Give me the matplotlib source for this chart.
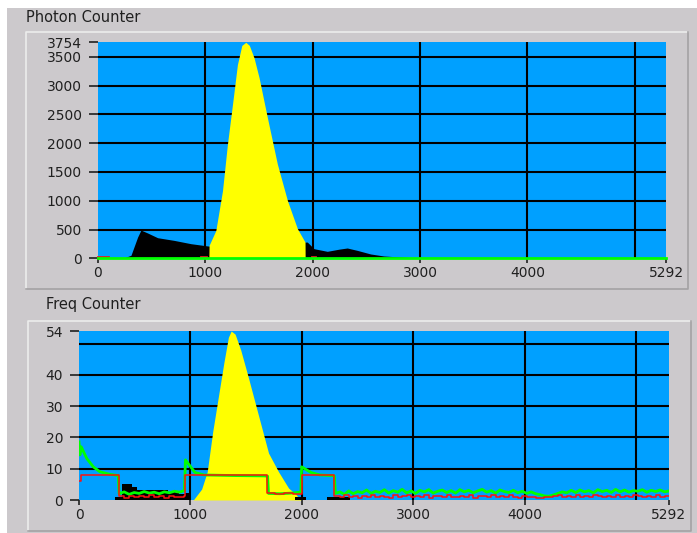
import numpy as np
import matplotlib
matplotlib.use('Agg')
import matplotlib.pyplot as plt
from matplotlib.lines import Line2D

# photon counter: black spectrum and yellow region of interest
spec_x = [0, 200, 245, 307, 369, 400, 462, 555, 710, 865, 1020, 1100, 1500, 1930,
          1950, 2012, 2136, 2250, 2322, 2415, 2540, 2663, 2800, 2900, 2912, 5292]
spec_y = [0, 0, 10, 52, 369, 490, 440, 358, 311, 254, 215, 200, 200, 282,
          282, 167, 121, 160, 179, 138, 75, 40, 24, 14, 0, 0]
roi_x = [1033, 1035, 1098, 1160, 1206, 1253, 1299, 1340, 1377, 1410, 1454, 1501,
         1578, 1671, 1765, 1858, 1929, 1930]
roi_y = [0, 225, 485, 1176, 1984, 2676, 3368, 3700, 3754, 3700, 3483, 3137,
         2445, 1638, 1003, 514, 282, 0]
red_marks = [(0, 95), (960, 1010), (1990, 2020)]

# freq counter
fpeak_x = [1025, 1100, 1150, 1200, 1250, 1300, 1340, 1365, 1400, 1450, 1520,
           1610, 1700, 1790, 1880, 1940, 1990]
fpeak_y = [0, 3.5, 9, 22, 33, 44, 52, 54, 53, 48, 39, 27, 15, 9, 3.8, 2, 0]
fblack_x = [0, 320, 383, 472, 517, 800, 900, 950, 1000, 1935, 2040, 2225, 2430, 5292]
fblack_y = [0, 1.0, 5.2, 4.2, 3.2, 2.7, 2.0, 2.2, 0, 1.0, 0, 1.0, 0, 0]

green_x = [0, 8, 20, 69, 128, 188, 278, 352, 360, 405, 450, 495, 540, 585, 630,
           675, 720, 765, 810, 855, 900, 945, 955, 1040, 1120, 1400, 1660, 1692,
           1700, 1800, 1900, 1990, 1997, 2080, 2161, 2275, 2290]
green_y = [18.6, 14.4, 17.0, 13.3, 10.6, 9.0, 8.2, 7.8, 2.0, 2.6, 1.8, 2.4, 2.1,
           2.7, 2.2, 2.5, 2.0, 2.6, 2.3, 2.8, 2.5, 3.0, 12.8, 8.8, 8.0, 7.8, 7.7,
           7.6, 2.1, 2.0, 2.2, 2.5, 10.6, 8.8, 8.0, 7.8, 7.7]
green_tail = [2.1, 2.6, 1.8, 2.9, 2.0, 2.7, 2.3, 3.2, 2.1, 2.8, 2.4, 3.3, 2.2, 3.0,
              2.5, 3.4, 2.3, 2.9, 2.1, 3.1, 2.6, 3.3, 2.2, 2.8, 3.2, 2.4, 3.0, 2.2,
              3.3, 2.6, 3.1, 2.3, 2.9, 3.4, 2.5, 3.0, 2.2, 3.2, 2.7, 2.4, 3.1, 2.3,
              2.8, 2.1, 2.6, 2.0, 1.7, 1.3, 1.2, 1.6, 2.1, 2.6, 2.3, 3.1, 2.4, 3.2,
              2.6, 3.0, 2.3, 3.3, 2.7, 3.1, 2.4, 3.4, 2.6, 3.2, 2.5, 3.0, 2.8, 3.3,
              2.5, 3.1, 2.7, 3.2, 2.6, 2.9]

red_x = [0, 20, 360, 405, 450, 495, 540, 585, 630, 675, 720, 765, 810, 855, 900,
         945, 950, 1690, 1760, 1840, 1920, 2000, 2290]
red_y = [6, 8, 1.2, 0.7, 1.4, 0.9, 1.3, 0.8, 1.5, 1.0, 1.2, 0.7, 1.4, 1.1, 0.9,
         1.3, 8, 2.2, 1.8, 2.1, 1.9, 8, 1.3]
red_tail = [1.2, 0.8, 1.5, 0.9, 1.3, 0.6, 1.4, 1.0, 1.6, 0.8, 1.3, 1.1, 0.7, 1.5,
            0.9, 1.2, 1.6, 0.8, 1.3, 1.0, 1.5, 0.7, 1.2, 1.4, 0.9, 1.6, 1.1, 0.8,
            1.3, 1.0, 1.5, 0.7, 1.4, 1.2, 0.8, 1.6, 1.0, 1.3, 0.9, 1.5, 1.1, 0.7,
            1.4, 1.0, 0.9, 0.7, 0.6, 0.8, 1.0, 1.2, 1.5, 0.9, 1.4, 1.1, 1.6, 0.8,
            1.3, 1.0, 1.5, 1.2, 0.9, 1.4, 1.1, 1.6, 1.0, 1.3, 0.8, 1.5, 1.2, 1.0,
            1.4, 0.9, 1.6, 1.1, 1.3, 1.2]
tail_x = np.linspace(2300, 5292, len(green_tail))

XMAX = 5292
BLUE = '#00a0ff'
GREY = '#ccc9cc'
TXT = '#202020'

plt.rcParams['font.family'] = 'DejaVu Sans'
W, H = 697, 533
fig = plt.figure(figsize=(W / 100, H / 100), dpi=100, facecolor='white')


def px_rect(x0, y0, x1, y1):
    return [x0 / W, 1 - y1 / H, (x1 - x0) / W, (y1 - y0) / H]


# grey window background and panel frames
fig.patches.append(plt.Rectangle((7 / W, 0), 1, 1 - 8 / H, transform=fig.transFigure,
                                 facecolor=GREY, edgecolor='none', zorder=-10))
for x0, y0, x1, y1 in [(26, 32, 688, 289), (28, 321, 691, 531)]:
    fx0, fx1 = x0 / W, x1 / W
    fy0, fy1 = 1 - y1 / H, 1 - y0 / H
    fig.lines.append(Line2D([fx0, fx0, fx1], [fy0, fy1, fy1], transform=fig.transFigure,
                            color='#ececec', lw=1.2))
    fig.lines.append(Line2D([fx0, fx1, fx1], [fy0, fy0, fy1], transform=fig.transFigure,
                            color='#a4a2a4', lw=1.2))

fig.text(26 / W, 1 - 22 / H, 'Photon Counter', fontsize=10.5, color=TXT, va='baseline')
fig.text(46 / W, 1 - 309 / H, 'Freq Counter', fontsize=10.5, color=TXT, va='baseline')


def style(ax, ymax, yticks, ygrid):
    ax.set_facecolor(BLUE)
    ax.set_xlim(0, XMAX)
    ax.set_ylim(0, ymax)
    for s in ax.spines.values():
        s.set_visible(False)
    for g in [1000, 2000, 3000, 4000, 5000]:
        ax.axvline(g, color='black', lw=1.5, zorder=1)
    for g in ygrid:
        ax.axhline(g, color='black', lw=1.5, zorder=1)
    ax.set_xticks([0, 1000, 2000, 3000, 4000, XMAX])
    ax.set_xticklabels(['0', '1000', '2000', '3000', '4000', '5292'])
    ax.set_yticks(yticks)
    ax.set_yticklabels([str(v) for v in yticks])
    ax.tick_params(axis='y', direction='out', length=6.5, width=1.2, pad=5,
                   color=TXT, labelcolor=TXT, labelsize=10)
    ax.tick_params(axis='x', direction='out', length=3.5, width=1.2, pad=2,
                   color=TXT, labelcolor=TXT, labelsize=10)


# top panel
ax1 = fig.add_axes(px_rect(98, 42.3, 666, 258.3))
style(ax1, 3754, [0, 500, 1000, 1500, 2000, 2500, 3000, 3500, 3754],
      [500, 1000, 1500, 2000, 2500, 3000, 3500])
ax1.fill_between(spec_x, spec_y, color='black', lw=0, zorder=2)
ax1.fill_between(roi_x, roi_y, color='#ffff00', lw=0, zorder=3)
for a, b in red_marks:
    ax1.plot([a, b], [18, 18], color='#e02020', lw=2, zorder=4, clip_on=False)
ax1.plot([0, XMAX], [0, 0], color='#00ff00', lw=2, zorder=5, clip_on=False)

# bottom panel
ax2 = fig.add_axes(px_rect(79, 331, 669, 500))
style(ax2, 54, [0, 10, 20, 30, 40, 54], [10, 20, 30, 40, 50])
ax2.fill_between(fpeak_x, fpeak_y, color='#ffff00', lw=0, zorder=2)
ax2.fill_between(fblack_x, fblack_y, step='post', color='black', lw=0, zorder=3)
ax2.plot(list(green_x) + list(tail_x), list(green_y) + green_tail,
         color='#00ff00', lw=2, zorder=4)
ax2.plot(list(red_x) + list(tail_x), list(red_y) + red_tail,
         drawstyle='steps-post', color='#ff1010', lw=1.1, zorder=5)

fig.savefig('out.png', dpi=100, facecolor=fig.get_facecolor())
